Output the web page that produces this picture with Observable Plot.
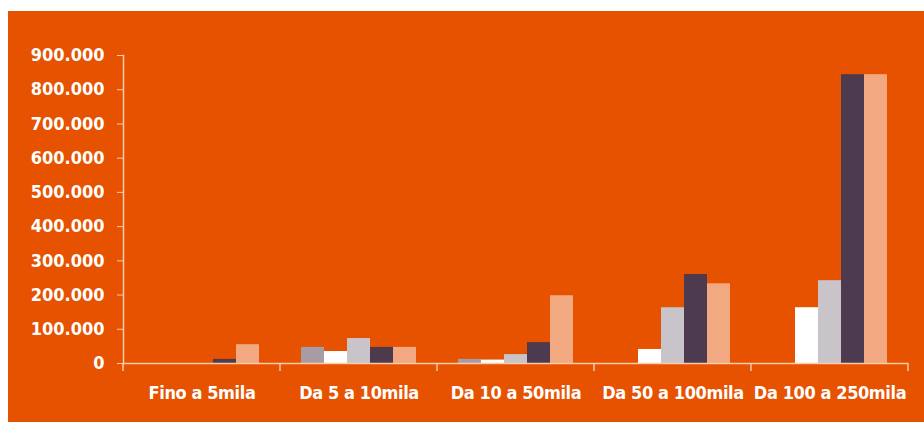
<!DOCTYPE html>
<html><head><meta charset="utf-8">
<script src="https://cdn.jsdelivr.net/npm/d3@7"></script>
<script src="https://cdn.jsdelivr.net/npm/@observablehq/plot@0.6"></script>
<style>
html,body{margin:0;padding:0;background:#fff;}
#chart{position:absolute;left:8px;top:11px;width:916px;height:411px;background:#E65200;}
#chart svg{overflow:visible;}
</style></head><body><div id="chart"></div>
<script>
const categories = ["Fino a 5mila", "Da 5 a 10mila", "Da 10 a 50mila", "Da 50 a 100mila", "Da 100 a 250mila"];
const series = ["Serie 1", "Serie 2", "Serie 3", "Serie 4", "Serie 5"];
const serie1 = [0, 47000, 12000, 0, 0];
const serie2 = [0, 35000, 10000, 41000, 163000];
const serie3 = [0, 73000, 26000, 163000, 242000];
const serie4 = [12000, 47000, 61000, 260000, 844000];
const serie5 = [55000, 47000, 198000, 233000, 844000];
const seriesColors = ["#A79CA6", "#FFFFFF", "#C9C3CA", "#4E3A4E", "#F2A880"];
const yTicks = [0, 100000, 200000, 300000, 400000, 500000, 600000, 700000, 800000, 900000];

const values = [serie1, serie2, serie3, serie4, serie5];
const table = [];
categories.forEach((c, i) => series.forEach((s, j) => table.push({cat: c, serie: s, value: values[j][i]})));

const itFormat = d3.formatLocale({decimal: ",", thousands: ".", grouping: [3], currency: ["", "€"]}).format(",d");
const axisColor = "#F8CBAA";

const plot = Plot.plot({
  width: 916,
  height: 411,
  marginLeft: 115,
  marginRight: 16,
  marginTop: 44,
  marginBottom: 59,
  style: {fontFamily: "'DejaVu Sans Condensed', 'DejaVu Sans', sans-serif", fontWeight: "bold", fontSize: "18px", color: "#fff", background: "transparent"},
  fx: {domain: categories, padding: 0, label: null},
  x: {domain: series, paddingInner: 0, paddingOuter: 0.8, axis: null},
  y: {domain: [0, 900000], label: null},
  color: {domain: series, range: seriesColors},
  marks: [
    Plot.barY(table, {fx: "cat", x: "serie", y: "value", fill: "serie"}),
    Plot.ruleY([0], {stroke: axisColor, strokeWidth: 1.5}),
    Plot.frame({anchor: "left", facetAnchor: "left", stroke: axisColor, strokeWidth: 1.5}),
    Plot.axisY({ticks: yTicks, tickFormat: itFormat, tickSize: 6, tickPadding: 13, stroke: axisColor, fill: "#fff", label: null, fontSize: 18}),
    Plot.axisFx({anchor: "bottom", tickSize: 0, tickPadding: 23, fill: "#fff", label: null, fontSize: 18})
  ]
});

// slightly tighter category labels, as in the original
d3.select(plot).selectAll("g[aria-label*='fx-axis'] text").style("letter-spacing", "-0.4px");

// boundary ticks under the baseline, from the library's fx and y scales
const fx = plot.scale("fx");
const y = plot.scale("y");
const y0 = y.apply(0);
const bounds = categories.map(c => fx.apply(c)).concat([fx.apply(categories[categories.length - 1]) + fx.bandwidth]);
d3.select(plot).append("g")
  .attr("stroke", axisColor).attr("stroke-width", 1.5)
  .selectAll("line").data(bounds).join("line")
  .attr("x1", d => d).attr("x2", d => d)
  .attr("y1", y0).attr("y2", y0 + 8);

document.getElementById("chart").appendChild(plot);
</script>
</body></html>
